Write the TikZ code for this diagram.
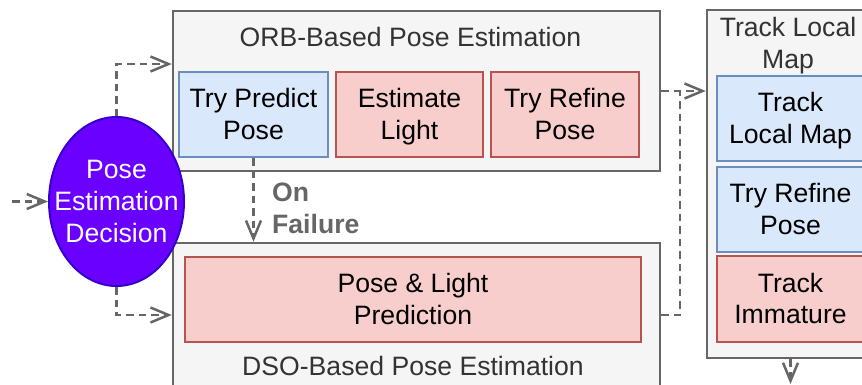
\documentclass[tikz,border=0pt]{standalone}
\usepackage{fontspec}
\setmainfont{Liberation Sans}
\usetikzlibrary{arrows.meta,shapes.geometric}

\definecolor{grpfill}{HTML}{F5F5F5}
\definecolor{grpline}{HTML}{666666}
\definecolor{grptext}{HTML}{333333}
\definecolor{bluefill}{HTML}{DAE8FC}
\definecolor{blueline}{HTML}{6C8EBF}
\definecolor{redfill}{HTML}{F8CECC}
\definecolor{redline}{HTML}{B85450}
\definecolor{decfill}{HTML}{6A00FF}
\definecolor{decline}{HTML}{3700CC}
\definecolor{flowline}{HTML}{666666}

% one text line with a fixed height and no depth, so every box centres alike
\newcommand{\tl}[1]{\raisebox{0pt}[18pt][0pt]{#1}}

\tikzset{
  txt/.style={font=\fontsize{26.6}{31.6}\selectfont, align=center, inner sep=0pt},
  group/.style={rectangle, draw=grpline, fill=grpfill, line width=2.5pt, inner sep=0pt},
  grouptitle/.style={txt, text=grptext},
  bluebox/.style={rectangle, txt, draw=blueline, fill=bluefill, line width=2.2pt, text=black},
  redbox/.style={rectangle, txt, draw=redline, fill=redfill, line width=2.2pt, text=black},
  decision/.style={ellipse, txt, draw=decline, fill=decfill, line width=2pt, text=white,
    inner xsep=-17pt, inner ysep=0pt},
  flow/.style={draw=flowline, line width=2.5pt, dash pattern=on 7.5pt off 5pt,
    -{Straight Barb[length=18pt,width=15pt]}},
  flowplain/.style={draw=flowline, line width=2.5pt, dash pattern=on 7.5pt off 5pt},
}

\begin{document}
\begin{tikzpicture}[x=1pt,y=-1pt]
\useasboundingbox (0,0) rectangle (862,384);
\clip (0,0) rectangle (862,384);

% ORB-based group
\node[group, minimum width=487pt, minimum height=160pt] (orb) at (416.5,91) {};
\node[grouptitle, anchor=base] (orbt) at (410.5,46.7) {ORB-Based Pose Estimation};
\node[bluebox, minimum width=149pt, minimum height=85pt] (tpp) at (253.5,114.5) {\tl{Try Predict}\\\tl{Pose}};
\node[redbox, minimum width=147pt, minimum height=85pt] (el) at (409.5,114.5) {\tl{Estimate}\\\tl{Light}};
\node[redbox, minimum width=148pt, minimum height=85pt] (trp) at (565,114.5) {\tl{Try Refine}\\\tl{Pose}};

% DSO-based group
\node[group, minimum width=487pt, minimum height=144pt] (dso) at (416.5,315) {};
\node[redbox, minimum width=456pt, minimum height=85pt] (plp) at (413,299.5) {\tl{Pose \& Light}\\\tl{Prediction}};
\node[grouptitle, anchor=base] (dsot) at (413,375) {DSO-Based Pose Estimation};

% Track local map group
\node[group, minimum width=167pt, minimum height=348pt] (trk) at (790.5,184) {};
\node[grouptitle] (trkt) at (788,43.5) {\tl{Track Local}\\\tl{Map}};
\node[bluebox, minimum width=147pt, minimum height=85pt] (tlm) at (790.5,118.5) {\tl{Track}\\\tl{Local Map}};
\node[bluebox, minimum width=147pt, minimum height=85pt] (trp2) at (790.5,209.5) {\tl{Try Refine}\\\tl{Pose}};
\node[redbox, minimum width=147pt, minimum height=86pt] (ti) at (790.5,299) {\tl{Track}\\\tl{Immature}};

% decision
\node[decision, minimum width=135pt, minimum height=169pt] (dec) at (116.5,201.5) {\tl{Pose}\\\tl{Estimation}\\\tl{Decision}};

% failure label
\node[txt, align=left, anchor=west, text=flowline, font=\fontsize{26.6}{31.6}\selectfont\bfseries] (fail) at (272,208.5) {\tl{On}\\\tl{Failure}};

% connectors
\coordinate (in) at (12,201.5);
\coordinate (join) at (680,91);
\coordinate (out) at (790.5,384);
\draw[flow] (in) -- (dec.west);
\draw[flow] (dec.north) |- ([yshift=27pt]orb.west);
\draw[flow] (dec.south) |- (dso.west);
\draw[flow] (tpp.south) -- (tpp.south |- dso.north);
\draw[flow] (orb.east) -- (orb.east -| trk.west);
\draw[flowplain] (dso.east) -| (join);
\draw[flow] (trk.south) -- (out);
\end{tikzpicture}
\end{document}
